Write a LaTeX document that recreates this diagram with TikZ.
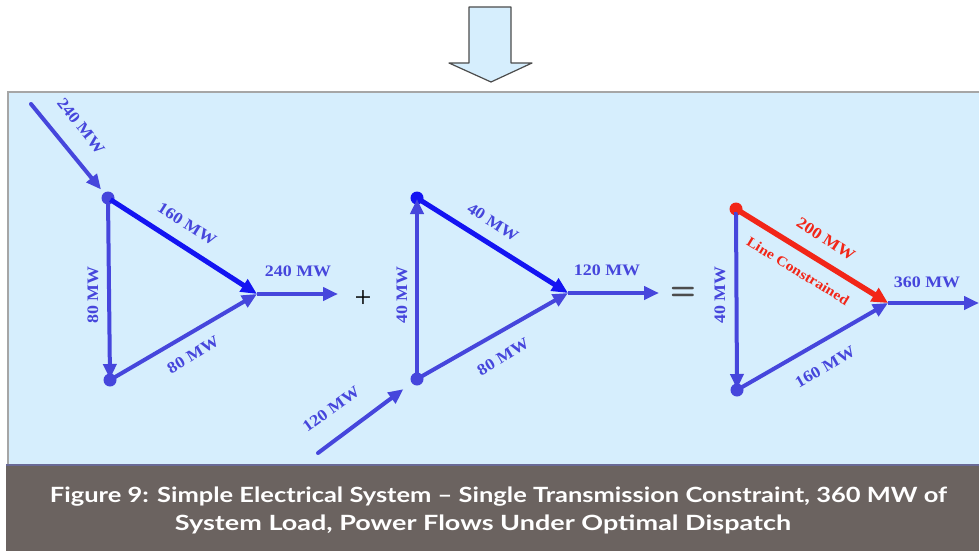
\documentclass[tikz,border=0pt]{standalone}
\usepackage{fontspec}
\usepackage{graphicx}
\setmainfont{Liberation Serif}
\newfontfamily\capfont{Lato}
\usetikzlibrary{arrows.meta,calc}
\definecolor{panelblue}{HTML}{D6EEFD}
\definecolor{capbg}{HTML}{6B6360}
\definecolor{flowblue}{HTML}{4646DC}
\definecolor{brightblue}{HTML}{1414F2}
\definecolor{flowred}{HTML}{F22618}
\newcommand{\widetxt}[1]{\scalebox{1.12}[1]{#1}}
\tikzset{
  dot/.style={circle,fill=flowblue,inner sep=0pt,minimum size=13pt},
  flow/.style={draw=flowblue,line width=4pt,-{Triangle[length=15pt,width=13pt]}},
  hot/.style={draw=brightblue,line width=5pt,-{Triangle[length=16pt,width=14pt]}},
  redflow/.style={draw=flowred,line width=5.5pt,-{Triangle[length=16pt,width=15pt]}},
  lbl/.style={text=flowblue,font=\bfseries\fontsize{16}{17}\selectfont,inner sep=0pt},
  rlbl/.style={text=flowred,font=\bfseries\fontsize{16}{17}\selectfont,inner sep=0pt},
  captext/.style={text=white,font=\capfont\bfseries\fontsize{21}{26}\selectfont,inner sep=0pt,anchor=base}
}
\begin{document}
\begin{tikzpicture}[x=1pt,y=-1pt]
\useasboundingbox (0,0) rectangle (979,551);
% top arrow
\draw[fill=panelblue,draw=gray!60!black,line width=1.2pt,line join=round]
  (469,7) -- (511,7) -- (511,63) -- (532,63) -- (491,82) -- (449,63) -- (469,63) -- cycle;
% panel
\fill[panelblue] (8,92) rectangle (979,465);
\draw[gray!70,line width=1.6pt] (8,465) -- (8,92) -- (979,92);
\fill[capbg] (6,465) rectangle (979,551);
\draw[gray!55!blue!40!gray,line width=1.2pt] (6,465) -- (979,465);

% triangle 1
\node[dot] (t1a) at (108,198) {};
\node[dot] (t1b) at (110,380) {};
\coordinate (t1c) at (257,294);
\coordinate (o1) at (338,294);
\coordinate (i1) at (31,104);
\draw[flow,shorten <=3pt,shorten >=1pt] (t1a.center) -- (t1b.center);
\draw[flow,shorten <=3pt] (t1b.center) -- (t1c);
\draw[hot,shorten <=3pt] (t1a.center) -- (t1c);
\draw[flow,line cap=round] (i1) -- ($(t1a)!11pt!(i1)$);
\draw[flow] (t1c) -- (o1);

\node[lbl,rotate=-51.5] (l1a) at (81,126) {\widetxt{240 MW}};
\node[lbl,rotate=-32.5] (l1b) at (187,224) {\widetxt{160 MW}};
\node[lbl] (l1c) at (298,271) {\widetxt{240 MW}};
\node[lbl,rotate=90] (l1d) at (93,295) {\widetxt{80 MW}};
\node[lbl,rotate=31] (l1e) at (193,355) {\widetxt{80 MW}};

% plus
\node[font=\fontsize{30}{30}\selectfont,inner sep=0pt] (plus) at (363,299) {+};

% triangle 2
\node[dot,fill=brightblue] (t2a) at (417,198) {};
\node[dot] (t2b) at (417,379) {};
\coordinate (t2c) at (568,293);
\coordinate (o2) at (659,293);
\coordinate (i2) at (318,453);
\draw[flow,shorten <=3pt,shorten >=1pt] (t2b.center) -- (t2a.center);
\draw[flow,shorten <=3pt] (t2b.center) -- (t2c);
\draw[hot,shorten <=3pt] (t2a.center) -- (t2c);
\draw[flow,line cap=round] (i2) -- ($(t2b)!17pt!(i2)$);
\draw[flow] (t2c) -- (o2);

\node[lbl,rotate=-32.5] (l2a) at (493,222) {\widetxt{40 MW}};
\node[lbl,rotate=90] (l2b) at (402,295) {\widetxt{40 MW}};
\node[lbl] (l2c) at (607,270) {\widetxt{120 MW}};
\node[lbl,rotate=31] (l2d) at (503,357) {\widetxt{80 MW}};
\node[lbl,rotate=36] (l2e) at (331,409) {\widetxt{120 MW}};

% equals
\node[font=\sffamily\bfseries\fontsize{30}{30}\selectfont,text=black!70,inner sep=0pt] (eq) at (683,293) {=};

% triangle 3
\node[dot,fill=flowred] (t3a) at (736,209) {};
\node[dot] (t3b) at (737,390) {};
\coordinate (t3c) at (888,303);
\coordinate (o3) at (979,303);
\draw[flow,shorten <=3pt,shorten >=1pt] (t3a.center) -- (t3b.center);
\draw[flow,shorten <=3pt] (t3b.center) -- (t3c);
\draw[redflow,shorten <=3pt] (t3a.center) -- (t3c);
\draw[flow] (t3c) -- (o3);

\node[rlbl,rotate=-33] (l3a) at (826,239) {\widetxt{200 MW}};
\node[rlbl,rotate=-31.5,font=\bfseries\fontsize{14}{15}\selectfont] (l3b) at (798,271) {\widetxt{Line Constrained}};
\node[lbl] (l3c) at (927,282) {\widetxt{360 MW}};
\node[lbl,rotate=90] (l3d) at (720,295) {\widetxt{40 MW}};
\node[lbl,rotate=30] (l3e) at (825,367) {\widetxt{160 MW}};

% caption
\node[captext] (cap1) at (498.5,502) {\resizebox{897pt}{\height}{Figure 9: Simple Electrical System – Single Transmission Constraint, 360 MW of}};
\node[captext] (cap2) at (483,530) {\resizebox{616pt}{\height}{System Load, Power Flows Under Optimal Dispatch}};
\end{tikzpicture}
\end{document}
